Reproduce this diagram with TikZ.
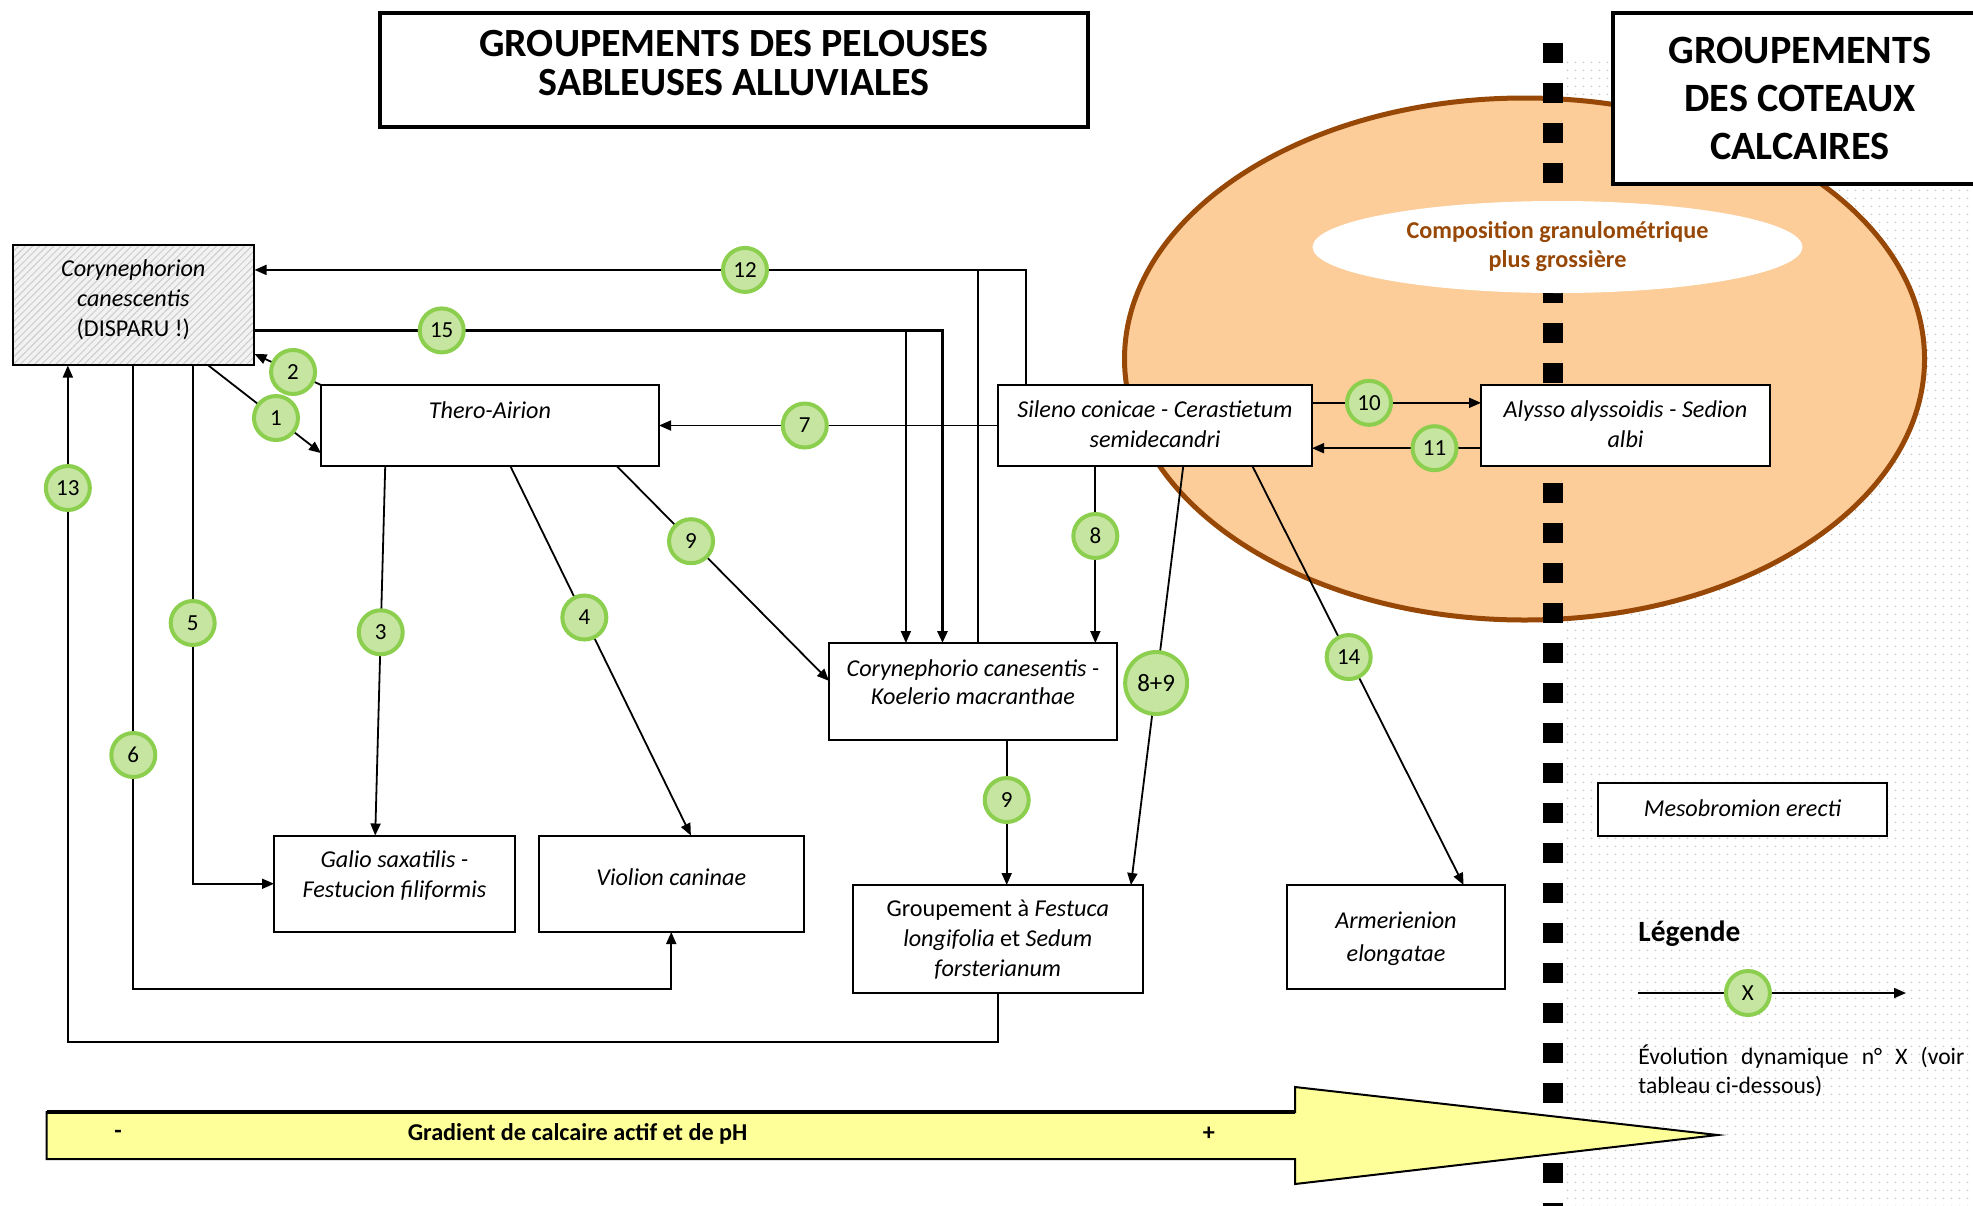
\documentclass[tikz,border=0pt]{standalone}
\usepackage{fontspec}
\setmainfont{Carlito}
\usetikzlibrary{arrows.meta,calc,patterns.meta,shapes.geometric}
\definecolor{orangefill}{RGB}{252,204,153}
\definecolor{brownline}{RGB}{152,72,6}
\definecolor{browntext}{RGB}{152,72,6}
\definecolor{greenfill}{RGB}{197,229,160}
\definecolor{greenline}{RGB}{140,206,78}
\definecolor{yellowfill}{RGB}{255,255,153}
\begin{document}
\begin{tikzpicture}[x=0.5pt,y=-0.5pt,
  box/.style={draw=black,line width=1pt,fill=white,inner sep=0pt,outer sep=0pt},
  txt/.style={align=center,inner sep=0pt,font=\fontsize{12.1}{15}\selectfont},
  num/.style={circle,draw=greenline,fill=greenfill,line width=2pt,minimum size=22pt,inner sep=0pt,font=\fontsize{11.5}{13}\selectfont},
  bignum/.style={num,minimum size=31pt,font=\fontsize{12.5}{14}\selectfont},
  conn/.style={line width=0.9pt,-{Triangle[length=6pt,width=5pt]}},
  plain/.style={line width=0.9pt},
  title/.style={draw=black,line width=1.6pt,fill=white,inner sep=0pt},
]
\useasboundingbox (0,0) rectangle (1973,1205);
% dotted background
\fill[pattern={Dots[radius=0.45pt,distance=4pt]},pattern color=gray!50] (1565,60) rectangle (1973,1205);
% big ellipse
\node[ellipse,draw=brownline,line width=2.5pt,fill=orangefill,minimum width=400pt,minimum height=261pt,inner sep=0pt] (zone) at (1524.5,359) {};
% squares
\foreach \k in {0,...,29} \fill (1543,43+40*\k) rectangle ++(20,20);
% inner ellipse
\node[ellipse,fill=white,minimum width=245pt,minimum height=46pt,inner sep=0pt] (grain) at (1557.5,247) {};
\node[txt,font=\bfseries\fontsize{12.1}{14.5}\selectfont,text=browntext] (grainT) at (grain.center) {Composition granulométrique\\plus grossière};
% titles
\node[title,minimum width=354pt,minimum height=57pt] (t1) at (734,70) {};
\node[txt,font=\bfseries\fontsize{20}{19.5}\selectfont] (t1T) at (734,63.5) {GROUPEMENTS DES PELOUSES\\SABLEUSES ALLUVIALES};
\node[title,minimum width=186pt,minimum height=85.5pt] (t2) at (1799,98.5) {};
\node[txt,font=\bfseries\fontsize{20.1}{24}\selectfont] (t2T) at (1800,98.5) {GROUPEMENTS\\DES COTEAUX\\CALCAIRES};
% boxes
\node[draw=black,line width=1pt,inner sep=0pt,minimum width=120.7pt,minimum height=60pt,preaction={fill=gray!10},pattern={Lines[angle=45,distance=2.5pt,line width=0.5pt]},pattern color=gray!40] (coryn) at (133.3,305) {};
\node[txt] (corynT) at (133.3,300) {\textit{Corynephorion}\\\textit{canescentis}\\(DISPARU !)};
\node[box,minimum width=169pt,minimum height=40.5pt] (thero) at (490,425.5) {};
\node[txt] (theroT) at (490,410) {\textit{Thero-Airion}};
\node[box,minimum width=157pt,minimum height=40.5pt] (sileno) at (1155,425.5) {};
\node[txt] (silenoT) at (1155,424) {\textit{Sileno conicae - Cerastietum}\\\textit{semidecandri}};
\node[box,minimum width=144.5pt,minimum height=40.5pt] (alysso) at (1625.5,425.5) {};
\node[txt] (alyssoT) at (1625.5,424) {\textit{Alysso alyssoidis - Sedion}\\\textit{albi}};
\node[box,minimum width=144pt,minimum height=48.5pt] (koel) at (973,691.5) {};
\node[txt,font=\fontsize{12.1}{14}\selectfont] (koelT) at (973,682) {\textit{Corynephorio canesentis -}\\\textit{Koelerio macranthae}};
\node[box,minimum width=120.5pt,minimum height=48.25pt] (galio) at (394.5,883.75) {};
\node[txt] (galioT) at (394.5,876) {\textit{Galio saxatilis -}\\\textit{Festucion filiformis}};
\node[box,minimum width=132.75pt,minimum height=48.25pt] (violion) at (671.25,883.75) {};
\node[txt] (violionT) at (671.25,877) {\textit{Violion caninae}};
\node[box,minimum width=144.75pt,minimum height=54pt] (festuca) at (997.75,939) {};
\node[txt] (festucaT) at (997.75,939.5) {Groupement à \textit{Festuca}\\\textit{longifolia} et \textit{Sedum}\\\textit{forsterianum}};
\node[box,minimum width=109pt,minimum height=52pt] (armer) at (1396,937) {};
\node[txt,font=\fontsize{12.1}{16.5}\selectfont] (armerT) at (1396,938.5) {\textit{Armerienion}\\\textit{elongatae}};
\node[box,minimum width=144.5pt,minimum height=26.25pt] (meso) at (1742.5,809.25) {};
\node[txt] (mesoT) at (1742.5,808) {\textit{Mesobromion erecti}};
% 12
\coordinate (e12) at ($(coryn.north east)!.21!(coryn.south east)$);
\coordinate (s12) at ($(sileno.north west)!.088!(sileno.north east)$);
\coordinate (k12) at ($(koel.north west)!.516!(koel.north east)$);
\draw[conn] (s12) |- (e12);
\draw[plain] (k12) -- (k12 |- e12);
\node[num] (n12) at (745,0 |- e12) {12};
% 15
\coordinate (s15) at ($(coryn.north east)!.71!(coryn.south east)$);
\coordinate (k15a) at ($(koel.north west)!.267!(koel.north east)$);
\coordinate (k15b) at ($(koel.north west)!.394!(koel.north east)$);
\draw[conn,line width=1.4pt] (s15) -| (k15b);
\draw[conn] (k15a |- s15) -- (k15a);
\node[num] (n15) at (441.7,0 |- s15) {15};
% 7
\draw[conn] (sileno.west) -- (thero.east) node[num,pos=.57] (n7) {7};
% 1
\draw[conn] ($(coryn.south west)!.81!(coryn.south east)$) -- ($(thero.north west)!.84!(thero.south west)$) node[num,pos=.6] (n1) {1};
% 2
\draw[conn] (thero.north west) -- ($(coryn.north east)!.905!(coryn.south east)$) node[num,pos=.42] (n2) {2};
% 3
\draw[conn] ($(thero.south west)!.19!(thero.south east)$) -- ($(galio.north west)!.42!(galio.north east)$) node[num,pos=.45] (n3) {3};
% 4
\draw[conn] ($(thero.south west)!.56!(thero.south east)$) -- ($(violion.north west)!.574!(violion.north east)$) node[num,pos=.41] (n4) {4};
% 9a
\draw[conn] ($(thero.south west)!.875!(thero.south east)$) -- ($(koel.north west)!.39!(koel.south west)$) node[num,pos=.35] (n9a) {9};
% 5
\coordinate (s5) at ($(coryn.south west)!.745!(coryn.south east)$);
\draw[conn] (s5) |- (galio.west);
\node[num] (n5) at (s5 |- 0,623) {5};
% 6
\coordinate (c6) at (violion.south |- 0,989);
\draw[conn] (coryn.south) |- (c6) -- (violion.south);
\node[num] (n6) at (coryn.south |- 0,755) {6};
% 13
\coordinate (s13) at ($(coryn.south west)!.23!(coryn.south east)$);
\coordinate (c13) at (festuca.south |- 0,1042);
\draw[conn] (festuca.south) -- (c13) -| (s13);
\node[num] (n13) at (s13 |- 0,488) {13};
% 8
\coordinate (s8) at ($(sileno.south west)!.31!(sileno.south east)$);
\draw[conn] (s8) -- (s8 |- koel.north);
\node[num] (n8) at (s8 |- 0,536) {8};
% 8+9
\draw[conn] ($(sileno.south west)!.59!(sileno.south east)$) -- ($(festuca.north west)!.96!(festuca.north east)$) node[bignum,pos=.518] (n89) {8+9};
% 9b
\coordinate (s9) at ($(koel.south west)!.617!(koel.south east)$);
\draw[conn] (s9) -- (s9 |- festuca.north);
\node[num] (n9b) at (s9 |- 0,800) {9};
% 14
\draw[conn] ($(sileno.south west)!.81!(sileno.south east)$) -- ($(armer.north west)!.81!(armer.north east)$) node[num,pos=.456] (n14) {14};
% 10
\coordinate (s10) at ($(sileno.north east)!.22!(sileno.south east)$);
\draw[conn] (s10) -- (s10 -| alysso.west);
\node[num] (n10) at (1369,0 |- s10) {10};
% 11
\coordinate (a11) at ($(alysso.north west)!.78!(alysso.south west)$);
\draw[conn] (a11) -- (a11 -| sileno.east);
\node[num] (n11) at (1434.5,0 |- a11) {11};
% gradient arrow
\draw[line width=1pt,fill=yellowfill] (46.5,1112) -- (1295,1112) -- (1295,1087) -- (1717.6,1135) -- (1295,1184) -- (1295,1159) -- (46.5,1159) -- cycle;
\draw[line width=1.8pt] (46.5,1112) -- (1295,1112);
\node[txt,font=\bfseries\fontsize{12.1}{13}\selectfont] (gmin) at (118,1134) {-};
\node[txt,font=\bfseries\fontsize{12.1}{13}\selectfont] (gtxt) at (577.6,1134) {Gradient de calcaire actif et de pH};
\node[txt,font=\bfseries\fontsize{12.1}{13}\selectfont] (gplus) at (1209,1134) {+};
% legend
\node[anchor=west,inner sep=0pt,font=\bfseries\fontsize{14.7}{16}\selectfont] (leg) at (1638,934) {Légende};
\coordinate (l1) at (1638,993);
\coordinate (l2) at (1906,993);
\draw[conn] (l1) -- (l2) node[num,pos=.41] (nx) {X};
\node[anchor=north west,inner sep=0pt,text width=163pt,align=justify,font=\fontsize{11.8}{14.5}\selectfont] (legT) at (1638,1044) {Évolution dynamique n° X (voir\linebreak tableau ci-dessous)};
\end{tikzpicture}
\end{document}
